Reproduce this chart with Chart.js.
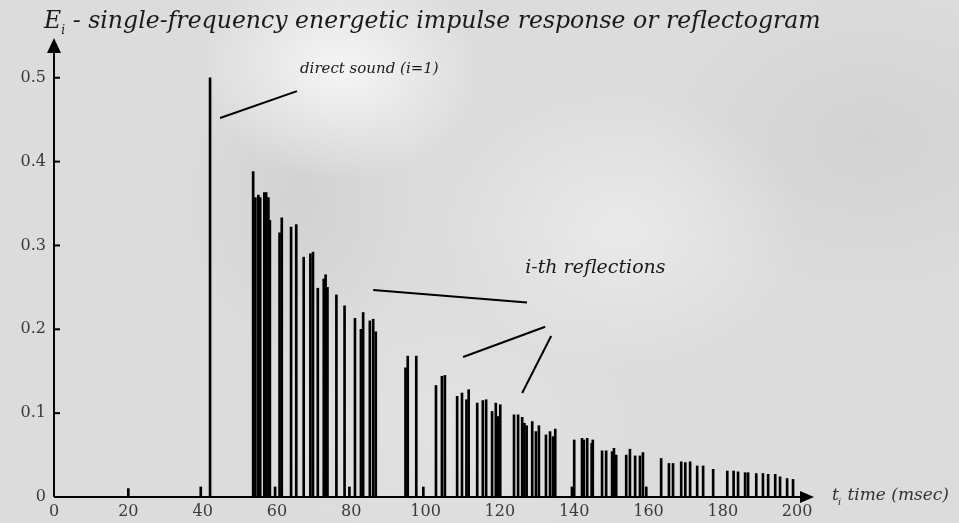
<!DOCTYPE html>
<html>
<head>
<meta charset="utf-8">
<script src="https://cdn.jsdelivr.net/npm/chart.js@4/dist/chart.umd.min.js"></script>
<style>
  html, body { margin: 0; padding: 0; }
  #wrap {
    position: relative; width: 959px; height: 523px; overflow: hidden;
    background:
      radial-gradient(ellipse 140px 110px at 340px 70px, rgba(250,250,250,0.85), rgba(250,250,250,0) 100%),
      radial-gradient(ellipse 120px 160px at 300px 200px, rgba(200,200,200,0.5), rgba(200,200,200,0) 100%),
      radial-gradient(ellipse 180px 140px at 620px 230px, rgba(240,240,240,0.7), rgba(240,240,240,0) 100%),
      radial-gradient(ellipse 220px 160px at 870px 140px, rgba(205,205,205,0.6), rgba(205,205,205,0) 100%),
      radial-gradient(ellipse 200px 150px at 450px 420px, rgba(230,230,230,0.6), rgba(230,230,230,0) 100%),
      #dcdcdc;
  }
</style>
</head>
<body>
<div id="wrap"><canvas id="myChart"></canvas></div>
<script>
'use strict';

// time of arrival (msec) and energy of each reflection
const times = [20, 39.5, 42.0,
  53.6, 54.2, 55.0, 55.5, 56.6, 57.1, 57.7, 58.1, 59.5, 60.7, 61.3, 63.8, 65.2, 67.2, 69.0, 69.7,
  71.0, 72.6, 73.1, 73.6, 76.0, 78.2, 79.5, 81.0, 82.6, 83.2, 85.0, 85.9, 86.6,
  94.6, 95.2, 97.5, 99.4, 102.8, 104.4, 105.2, 108.5, 109.8, 111.0, 111.6, 113.9, 115.4, 116.3,
  117.9, 118.9, 119.5, 120.1, 123.8, 124.9, 126.0, 126.6, 127.2, 128.7, 129.7, 130.5, 132.4,
  133.5, 134.3, 134.9, 139.4, 140.0, 142.1, 142.6, 143.5, 144.7, 145.0, 147.5, 148.6, 150.2,
  150.7, 151.3, 154.0, 155.0, 156.4, 157.7, 158.5, 159.4, 163.4, 165.5, 166.6, 168.8, 169.9,
  171.2, 173.1, 174.7, 177.4, 181.2, 182.9, 184.1, 186.0, 186.8, 189.0, 190.8, 192.2, 194.1,
  195.4, 197.3, 198.9];
const energy = [0.01, 0.012, 0.5,
  0.388, 0.357, 0.36, 0.357, 0.363, 0.363, 0.357, 0.33, 0.012, 0.315, 0.333, 0.322, 0.325, 0.286, 0.29, 0.292,
  0.249, 0.26, 0.265, 0.25, 0.241, 0.228, 0.012, 0.213, 0.2, 0.22, 0.21, 0.212, 0.197,
  0.154, 0.168, 0.168, 0.012, 0.133, 0.144, 0.145, 0.12, 0.124, 0.116, 0.128, 0.112, 0.115, 0.116,
  0.102, 0.112, 0.096, 0.11, 0.098, 0.098, 0.095, 0.088, 0.085, 0.09, 0.078, 0.085, 0.074,
  0.078, 0.072, 0.081, 0.012, 0.068, 0.07, 0.068, 0.07, 0.064, 0.068, 0.055, 0.055, 0.054,
  0.058, 0.05, 0.05, 0.057, 0.049, 0.049, 0.053, 0.012, 0.046, 0.04, 0.04, 0.042, 0.041,
  0.042, 0.037, 0.037, 0.033, 0.031, 0.031, 0.03, 0.029, 0.029, 0.028, 0.028, 0.027, 0.027,
  0.024, 0.022, 0.021];

const xTicks = [0, 20, 40, 60, 80, 100, 120, 140, 160, 180, 200];
const yTicks = [0, 0.1, 0.2, 0.3, 0.4, 0.5];

// callouts: [t1, e1, t2, e2] in data units
const directLine = [44.7, 0.452, 65.4, 0.484];
const reflLines = [
  [85.9, 0.247, 127.3, 0.232],
  [110.1, 0.167, 132.2, 0.203],
  [126.0, 0.124, 133.8, 0.192]
];
const directLabel = 'direct sound (i=1)';
const reflLabel = 'i-th reflections';

const serif = "'DejaVu Serif', 'Liberation Serif', serif";

const extras = {
  id: 'extras',
  afterDatasetsDraw(chart) {
    const ctx = chart.ctx;
    const xs = chart.scales.x, ys = chart.scales.y;
    const x0 = xs.getPixelForValue(0), y0 = ys.getPixelForValue(0);
    const top = chart.chartArea.top, right = chart.chartArea.right;
    ctx.save();
    ctx.strokeStyle = '#000';
    ctx.fillStyle = '#000';
    ctx.lineWidth = 2;
    // axes
    ctx.beginPath();
    ctx.moveTo(x0, y0); ctx.lineTo(x0, top + 10);
    ctx.moveTo(x0, y0); ctx.lineTo(right - 10, y0);
    ctx.stroke();
    // arrow heads
    ctx.beginPath();
    ctx.moveTo(x0, top - 2); ctx.lineTo(x0 - 7, top + 13); ctx.lineTo(x0 + 7, top + 13); ctx.closePath();
    ctx.fill();
    ctx.beginPath();
    ctx.moveTo(right + 2, y0); ctx.lineTo(right - 12, y0 - 6); ctx.lineTo(right - 12, y0 + 6); ctx.closePath();
    ctx.fill();
    // y ticks
    yTicks.forEach(v => {
      if (v === 0) return;
      const y = ys.getPixelForValue(v);
      ctx.beginPath(); ctx.moveTo(x0, y); ctx.lineTo(x0 + 6, y); ctx.stroke();
    });
    // callout lines
    [directLine].concat(reflLines).forEach(l => {
      ctx.beginPath();
      ctx.moveTo(xs.getPixelForValue(l[0]), ys.getPixelForValue(l[1]));
      ctx.lineTo(xs.getPixelForValue(l[2]), ys.getPixelForValue(l[3]));
      ctx.stroke();
    });
    // labels
    ctx.fillStyle = '#1a1a1a';
    ctx.textBaseline = 'middle';
    ctx.font = 'italic 15px ' + serif;
    ctx.fillText(directLabel, xs.getPixelForValue(66.2), ys.getPixelForValue(0.51));
    ctx.font = 'italic 19px ' + serif;
    ctx.fillText(reflLabel, xs.getPixelForValue(126.8), ys.getPixelForValue(0.273));
    // title
    ctx.textBaseline = 'alphabetic';
    ctx.font = 'italic 23.6px ' + serif;
    ctx.fillText('E', 44, 28);
    const w = ctx.measureText('E').width;
    ctx.font = 'italic 12px ' + serif;
    ctx.fillText('i', 44 + w, 34);
    ctx.font = 'italic 23.6px ' + serif;
    ctx.fillText(' - single-frequency energetic impulse response or reflectogram', 44 + w + 4, 28);
    // x axis name
    ctx.fillStyle = '#333';
    ctx.font = 'italic 17px ' + serif;
    ctx.fillText('t', 832, 500);
    ctx.font = 'italic 10px ' + serif;
    ctx.fillText('i', 838, 505);
    ctx.font = 'italic 17px ' + serif;
    ctx.fillText(' time (msec)', 842, 500);
    ctx.restore();
  }
};

const ctx = document.getElementById('myChart').getContext('2d');
const chart = new Chart(ctx, {
  type: 'bar',
  data: {
    datasets: [{
      data: times.map((t, i) => ({ x: t, y: energy[i] })),
      backgroundColor: '#000',
      borderWidth: 0,
      barThickness: 2
    }]
  },
  options: {
    responsive: true,
    maintainAspectRatio: false,
    animation: false,
    layout: { padding: { top: 40, right: 147, left: 0, bottom: 0 } },
    plugins: { legend: { display: false }, tooltip: { enabled: false }, title: { display: false } },
    scales: {
      x: {
        type: 'linear', min: 0, max: 204, offset: false,
        grid: { display: false, drawTicks: false, offset: false },
        border: { display: false },
        afterBuildTicks: s => { s.ticks = xTicks.map(v => ({ value: v })); },
        afterFit: s => { s.height = 26; },
        ticks: { color: '#3a3a3a', padding: 5, maxRotation: 0, autoSkip: false,
          font: { family: serif, size: 16 }, callback: v => String(v) }
      },
      y: {
        min: 0, max: 0.545,
        grid: { display: false, drawTicks: false },
        border: { display: false },
        afterBuildTicks: s => { s.ticks = yTicks.map(v => ({ value: v })); },
        afterFit: s => { s.width = 54; },
        ticks: { color: '#3a3a3a', padding: 8, autoSkip: false,
          font: { family: serif, size: 16 }, callback: v => v === 0 ? '0' : v.toFixed(1) }
      }
    }
  },
  plugins: [extras]
});
</script>
</body>
</html>
